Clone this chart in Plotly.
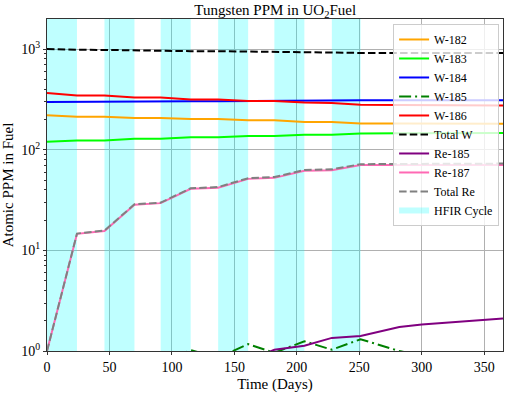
import plotly.graph_objects as go

# ---- data ----
days = [0, 24, 46, 70, 91, 115, 137, 161, 182, 206, 228, 251, 282, 300, 365]

w182 = [221, 213, 213, 207, 207, 202, 202, 197, 197, 189, 189, 183, 182, 182, 181]
w183 = [120, 124, 124, 129, 129, 133, 133, 137, 137, 141, 141, 145, 146, 146, 147]
w184 = [298, 300, 300, 302, 302, 304, 304, 306, 306, 308, 308, 310, 310, 310, 310]
w185 = [0.01, 0.6, 0.5, 0.85, 0.75, 1.02, 0.86, 1.17, 0.96, 1.25, 1.03, 1.31, 1.0, 0.9, 0.6]
w186 = [367, 347, 347, 331, 331, 316, 316, 305, 305, 295, 292, 280, 278, 277, 276]
total_w = [1006, 985, 984, 969, 969, 955, 955, 945, 945, 933, 930, 918, 918, 918, 914]
re185 = [0.01, 0.1, 0.15, 0.3, 0.35, 0.5, 0.6, 0.8, 1.03, 1.13, 1.35, 1.41, 1.73, 1.83, 2.11]
re187 = [1.0, 14.6, 15.6, 28.4, 29.5, 40.9, 42.0, 51.4, 52.6, 61.8, 62.5, 70.5, 70.6, 70.7, 70.8]
total_re = [1.0, 14.7, 15.75, 28.7, 29.85, 41.4, 42.6, 52.2, 53.6, 62.9, 63.9, 71.9, 72.3, 72.5, 72.9]

cycle_start = [0, 46, 91, 137, 182, 228]
cycle_end = [24, 70, 115, 161, 206, 251]

y_tick_vals = [1, 10, 100, 1000]
y_tick_text = ["10<sup>0</sup>", "10<sup>1</sup>", "10<sup>2</sup>", "10<sup>3</sup>"]
x_tick_vals = [0, 50, 100, 150, 200, 250, 300, 350]

FONT = "Liberation Serif"

fig = go.Figure()

# HFIR cycle bands as one filled trace
bx, by = [], []
for s, e in zip(cycle_start, cycle_end):
    bx += [s, e, e, s, s, None]
    by += [0.5, 0.5, 5000, 5000, 0.5, None]
fig.add_trace(go.Scatter(
    x=bx, y=by, fill="toself", mode="none",
    fillcolor="rgba(0,255,255,0.25)", name="HFIR Cycle",
    legendrank=100, hoverinfo="skip"))

series = [
    ("W-182", w182, "#FFA500", "solid"),
    ("W-183", w183, "#00FF00", "solid"),
    ("W-184", w184, "#0000FF", "solid"),
    ("W-185", w185, "#008000", "12px,4px,2px,4px"),
    ("W-186", w186, "#FF0000", "solid"),
    ("Total W", total_w, "#000000", "7.5px,3.2px"),
    ("Re-185", re185, "#800080", "solid"),
    ("Re-187", re187, "#FF69B4", "solid"),
    ("Total Re", total_re, "#808080", "7.5px,3.2px"),
]
for i, (name, vals, col, dash) in enumerate(series):
    fig.add_trace(go.Scatter(
        x=days, y=vals, mode="lines", name=name, legendrank=i + 1,
        line=dict(color=col, width=2, dash=dash)))

minor_vals = [m * 10 ** d for d in range(0, 4) for m in range(2, 10)]

fig.update_layout(
    width=505, height=393,
    margin=dict(l=47, r=2, t=19, b=42),
    paper_bgcolor="white", plot_bgcolor="white",
    font=dict(family=FONT, size=14, color="black"),
    title=dict(text="Tungsten PPM in UO<sub>2</sub>Fuel", x=0.545, xanchor="center",
               y=0.975, yanchor="middle", font=dict(family=FONT, size=15, color="black")),
    showlegend=True,
    legend=dict(x=0.759, y=0.985, xanchor="left", yanchor="top",
                bgcolor="rgba(255,255,255,0.8)", bordercolor="#cccccc", borderwidth=1,
                font=dict(family=FONT, size=12, color="black"), itemwidth=30,
                tracegroupgap=0),
    xaxis=dict(range=[0, 365], tickvals=x_tick_vals, showgrid=True, gridcolor="#b0b0b0",
               gridwidth=1, showline=True, linecolor="#333333", linewidth=1, mirror=True,
               ticks="outside", ticklen=3, tickcolor="#333333", zeroline=False,
               tickfont=dict(family=FONT, size=14, color="black"),
               title=dict(text="Time (Days)", font=dict(family=FONT, size=15, color="black"),
                          standoff=4)),
    yaxis=dict(type="log", range=[0, 3.3], tickvals=y_tick_vals, ticktext=y_tick_text,
               showgrid=True, gridcolor="#b0b0b0", gridwidth=1, showline=True,
               linecolor="#333333", linewidth=1, mirror=True, ticks="outside", ticklen=3,
               tickcolor="#333333", zeroline=False,
               tickfont=dict(family=FONT, size=14, color="black"),
               minor=dict(tickvals=minor_vals, ticks="outside", ticklen=2,
                          tickcolor="#333333", showgrid=False),
               title=dict(text="Atomic PPM in Fuel",
                          font=dict(family=FONT, size=15, color="black"), standoff=4)),
)

fig.write_html("out.html", config={"displayModeBar": False},
               post_script="document.body.style.margin='0';")
